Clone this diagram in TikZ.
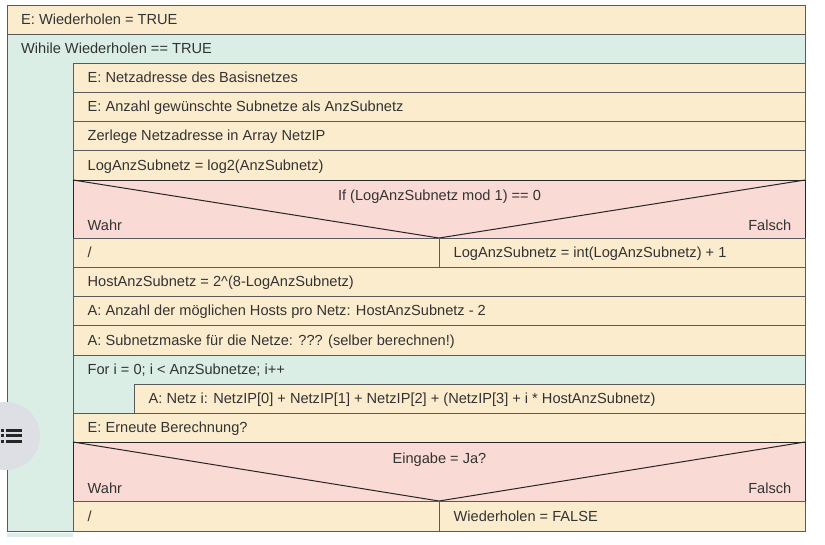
\documentclass[tikz,border=0pt]{standalone}
\usepackage{fontspec}
\setmainfont{Liberation Sans}
\usetikzlibrary{positioning}
\definecolor{nsbeige}{RGB}{252,236,206}
\definecolor{nsteal}{RGB}{218,238,229}
\definecolor{nspink}{RGB}{250,218,212}
\definecolor{nsline}{RGB}{90,90,90}
\definecolor{nstext}{RGB}{51,51,51}
\definecolor{nsbutton}{RGB}{221,223,228}
\tikzset{
  stmt/.style={draw=nsline,fill=nsbeige,line width=1pt},
  loopbox/.style={draw=nsline,fill=nsteal,line width=1pt},
  ifbox/.style={draw=black!85,fill=nspink,line width=1pt},
  lbl/.style={anchor=west,inner sep=0pt,text height=10.4pt,text depth=0pt,
              font=\fontsize{14.6}{17}\selectfont,text=nstext},
}
\begin{document}
\begin{tikzpicture}[x=1pt,y=-1pt]
  \useasboundingbox (0,0) rectangle (825,544);

  % While block (teal background)
  \path[loopbox] (7,34) rectangle (805,531);
  \fill[nsteal] (7,533) rectangle (73,537);
  % First input
  \path[stmt] (7,5) rectangle (805,34);
  \node[lbl] (init) at (21,19.5) {E: Wiederholen = TRUE};
  \node[lbl] (while) at (21,48.5) {Wihile Wiederholen == TRUE};

  % Statements in the loop body
  \foreach \ya/\yb/\name/\txt in {
      63/92/netz/{E: Netzadresse des Basisnetzes},
      92/121/anzahl/{E: Anzahl gewünschte Subnetze als AnzSubnetz},
      121/150/zerlege/{Zerlege Netzadresse in Array NetzIP},
      150/180/logsub/{LogAnzSubnetz = log2(AnzSubnetz)},
      267/296/hostsub/{HostAnzSubnetz = 2\textasciicircum(8-LogAnzSubnetz)},
      296/325/hosts/{A: Anzahl der möglichen Hosts pro Netz: HostAnzSubnetz - 2},
      325/355/maske/{A: Subnetzmaske für die Netze: ??? (selber berechnen!)},
      413/442/erneut/{E: Erneute Berechnung?}}{
    \path[stmt] (73,\ya) rectangle (805,\yb);
    \node[lbl] (\name) at (87.5,{(\ya+\yb)/2}) {\txt};
  }

  % If: LogAnzSubnetz mod 1
  \path[ifbox] (73,180) rectangle (805,238);
  \draw[black!85,line width=1pt] (73,180) -- (439,238) -- (805,180);
  \node[lbl,anchor=center] (if1) at (439.5,195) {If (LogAnzSubnetz mod 1) == 0};
  \node[lbl] (wahr1) at (87.5,225) {Wahr};
  \node[lbl,anchor=east] (falsch1) at (791.5,225) {Falsch};
  \path[stmt] (73,238) rectangle (439,267);
  \path[stmt] (439,238) rectangle (805,267);
  \node[lbl] (leer1) at (87.5,252.5) {/};
  \node[lbl] (logint) at (453.5,252.5) {LogAnzSubnetz = int(LogAnzSubnetz) + 1};

  % For loop
  \path[loopbox] (73,355) rectangle (805,413);
  \node[lbl] (for) at (87.5,369.5) {For i = 0; i < AnzSubnetze; i++};
  \path[stmt] (134,384) rectangle (805,413);
  \node[lbl] (netzi) at (148.5,398.5) {A: Netz i: NetzIP[0] + NetzIP[1] + NetzIP[2] + (NetzIP[3] + i * HostAnzSubnetz)};

  % If: Eingabe = Ja?
  \path[ifbox] (73,442) rectangle (805,501);
  \draw[black!85,line width=1pt] (73,442) -- (439,501) -- (805,442);
  \node[lbl,anchor=center] (if2) at (439.5,458) {Eingabe = Ja?};
  \node[lbl] (wahr2) at (87.5,488) {Wahr};
  \node[lbl,anchor=east] (falsch2) at (791.5,488) {Falsch};
  \path[stmt] (73,501) rectangle (439,531);
  \path[stmt] (439,501) rectangle (805,531);
  \node[lbl] (leer2) at (87.5,516) {/};
  \node[lbl] (wiederfalse) at (453.5,516) {Wiederholen = FALSE};

  % Floating list button
  \fill[nsbutton] (6,436) circle (34);
  \foreach \yb in {428.5,434,439.5}{
    \fill[black!85] (1,\yb) rectangle (3.5,\yb+3.2);
    \fill[black!85] (5.5,\yb) rectangle (22,\yb+3.2);
  }
\end{tikzpicture}
\end{document}
